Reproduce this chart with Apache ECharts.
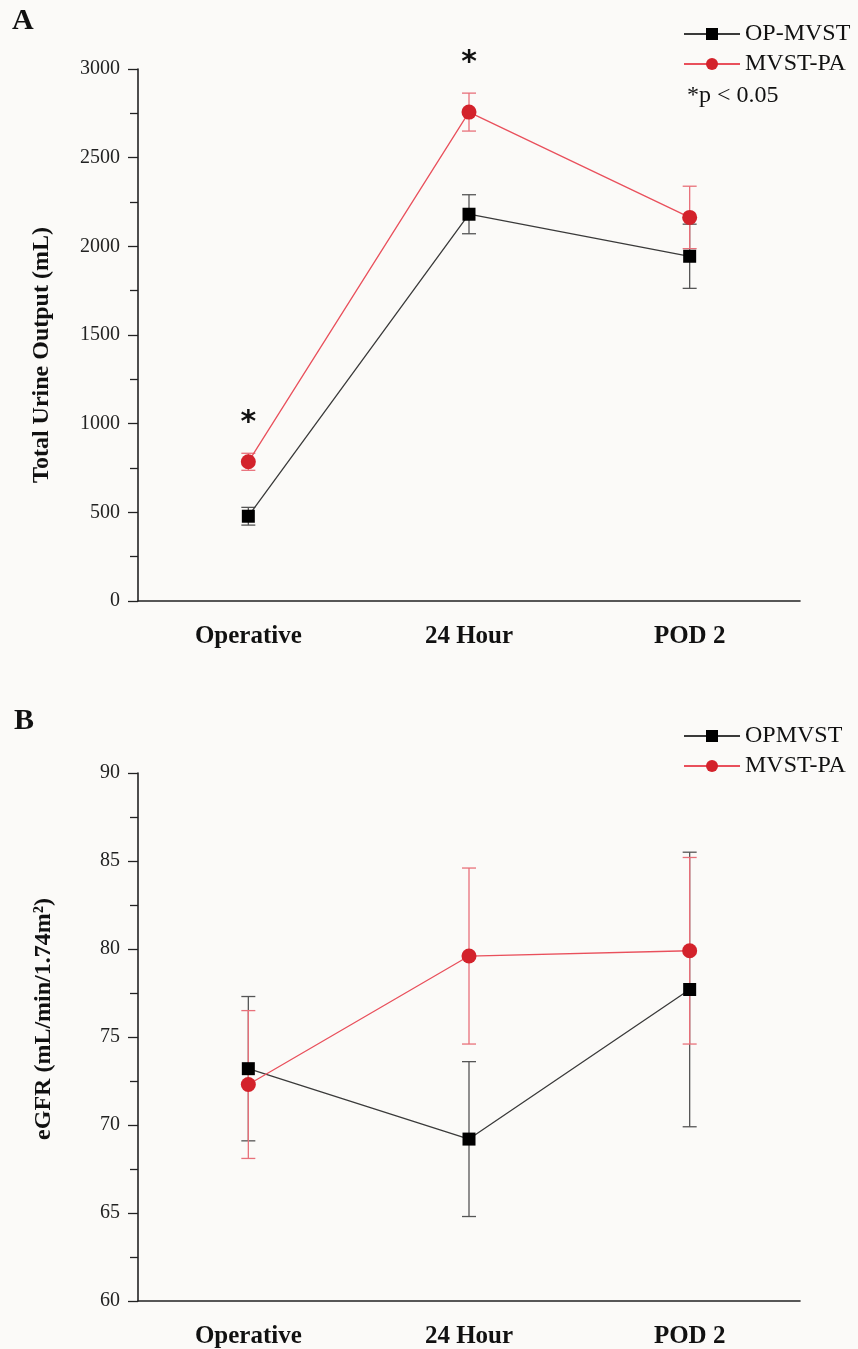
<!DOCTYPE html>
<html>
<head>
<meta charset="utf-8">
<script src="https://cdn.jsdelivr.net/npm/echarts@6/dist/echarts.min.js"></script>
<style>
  html, body { margin: 0; padding: 0; background: #fbfaf8; }
  #main { width: 858px; height: 1349px; }
</style>
</head>
<body>
<div id="main"></div>
<script>
// categories and values
const categories = ['Operative', '24 Hour', 'POD 2'];

// panel A: total urine output (mL), mean and error
const urineOp = [478, 2181, 1944];
const urineOpErr = [50, 110, 181];
const urinePa = [785, 2757, 2163];
const urinePaErr = [48, 107, 176];
const urineStars = [[0, 1050], [1, 3080]];

// panel B: eGFR, mean and error
const gfrOp = [73.2, 69.2, 77.7];
const gfrOpErr = [4.1, 4.4, 7.8];
const gfrPa = [72.3, 79.6, 79.9];
const gfrPaErr = [4.2, 5.0, 5.3];

const serif = '"Liberation Serif", "DejaVu Serif", serif';
const blackLine = '#3a3a3a';
const blackErr = '#555';
const redLine = '#e9505c';
const redMark = '#d3222b';
const redErr = '#e8707a';

function errData(mean, err) {
    return mean.map((m, i) => [i, m - err[i], m + err[i]]);
}

function errSeries(name, idx, mean, err, color) {
    return {
        name: name,
        type: 'custom',
        xAxisIndex: idx,
        yAxisIndex: idx,
        z: 1,
        silent: true,
        data: errData(mean, err),
        renderItem: function (params, api) {
            const lo = api.coord([api.value(0), api.value(1)]);
            const hi = api.coord([api.value(0), api.value(2)]);
            const w = 7;
            const st = { stroke: color, lineWidth: 1.3 };
            return {
                type: 'group',
                children: [
                    { type: 'line', shape: { x1: lo[0], y1: lo[1], x2: hi[0], y2: hi[1] }, style: st },
                    { type: 'line', shape: { x1: lo[0] - w, y1: lo[1], x2: lo[0] + w, y2: lo[1] }, style: st },
                    { type: 'line', shape: { x1: hi[0] - w, y1: hi[1], x2: hi[0] + w, y2: hi[1] }, style: st }
                ]
            };
        }
    };
}

function lineSeries(name, idx, data, isRed) {
    return {
        name: name,
        type: 'line',
        xAxisIndex: idx,
        yAxisIndex: idx,
        z: 3,
        data: data,
        symbol: isRed ? 'circle' : 'rect',
        symbolSize: isRed ? 15 : 13,
        itemStyle: { color: isRed ? redMark : '#000' },
        lineStyle: { color: isRed ? redLine : blackLine, width: 1.3 }
    };
}

function xAx(idx) {
    return {
        type: 'category',
        gridIndex: idx,
        data: categories,
        boundaryGap: true,
        axisLine: { lineStyle: { color: '#222', width: 1.6 } },
        axisTick: { alignWithLabel: true, length: 9, lineStyle: { color: '#222', width: 1.3 } },
        axisLabel: { fontFamily: serif, fontSize: 25, fontWeight: 'bold', color: '#111', margin: 23 },
        splitLine: { show: false }
    };
}

function yAx(idx, min, max, interval, name, gap, pad) {
    return {
        type: 'value',
        gridIndex: idx,
        min: min,
        max: max,
        interval: interval,
        name: name,
        nameLocation: 'middle',
        nameGap: gap,
        nameTextStyle: { fontFamily: serif, fontSize: 24, fontWeight: 'bold', color: '#111', padding: pad },
        axisLine: { show: true, lineStyle: { color: '#222', width: 1.6 } },
        axisTick: { show: true, length: 10, lineStyle: { color: '#222', width: 1.3 } },
        minorTick: { show: true, splitNumber: 2, length: 8, lineStyle: { color: '#222', width: 1.3 } },
        axisLabel: { fontFamily: serif, fontSize: 20, color: '#222', margin: 18, formatter: v => String(v) },
        splitLine: { show: false }
    };
}

const legendText = { fontFamily: serif, fontSize: 24, color: '#111' };

const option = {
    backgroundColor: '#fbfaf8',
    animation: false,
    grid: [
        { left: 138, right: 58, top: 69, height: 532 },
        { left: 138, right: 58, top: 773, height: 532 }
    ],
    xAxis: [xAx(0), xAx(1)],
    yAxis: [
        yAx(0, 0, 3000, 500, 'Total Urine Output (mL)', 84, [0, 40, 0, 0]),
        yAx(1, 60, 90, 5, 'eGFR (mL/min/1.74m²)', 82, [0, 0, 0, 36])
    ],
    legend: [
        {
            data: ['OP-MVST', 'MVST-PA'],
            orient: 'vertical',
            left: 678,
            top: 17,
            itemWidth: 56,
            itemHeight: 15,
            itemGap: 6,
            textStyle: legendText
        },
        {
            data: ['OPMVST', 'MVST-PA'],
            orient: 'vertical',
            left: 678,
            top: 719,
            itemWidth: 56,
            itemHeight: 15,
            itemGap: 6,
            textStyle: legendText
        }
    ],
    graphic: [
        { type: 'text', left: 12, top: 6, style: { text: 'A', fontFamily: serif, fontSize: 30, fontWeight: 'bold', fill: '#111' } },
        { type: 'text', left: 14, top: 706, style: { text: 'B', fontFamily: serif, fontSize: 30, fontWeight: 'bold', fill: '#111' } },
        { type: 'text', left: 687, top: 84, style: { text: '*p < 0.05', fontFamily: serif, fontSize: 24, fill: '#111' } }
    ],
    series: [
        errSeries('errA1', 0, urineOp, urineOpErr, blackErr),
        errSeries('errA2', 0, urinePa, urinePaErr, redErr),
        lineSeries('OP-MVST', 0, urineOp, false),
        lineSeries('MVST-PA', 0, urinePa, true),
        {
            name: 'sig',
            type: 'custom',
            xAxisIndex: 0,
            yAxisIndex: 0,
            silent: true,
            clip: false,
            data: urineStars,
            renderItem: function (params, api) {
                const p = api.coord([api.value(0), api.value(1)]);
                return {
                    type: 'text',
                    x: p[0],
                    y: p[1] + 8,
                    style: {
                        text: '*',
                        fontFamily: '"DejaVu Sans", sans-serif',
                        fontWeight: 'bold',
                        fontSize: 30,
                        fill: '#111',
                        align: 'center',
                        verticalAlign: 'middle'
                    }
                };
            }
        },
        errSeries('errB1', 1, gfrOp, gfrOpErr, blackErr),
        errSeries('errB2', 1, gfrPa, gfrPaErr, redErr),
        lineSeries('OPMVST', 1, gfrOp, false),
        lineSeries('MVST-PA', 1, gfrPa, true)
    ]
};

const chart = echarts.init(document.getElementById('main'));
chart.setOption(option);
</script>
</body>
</html>
